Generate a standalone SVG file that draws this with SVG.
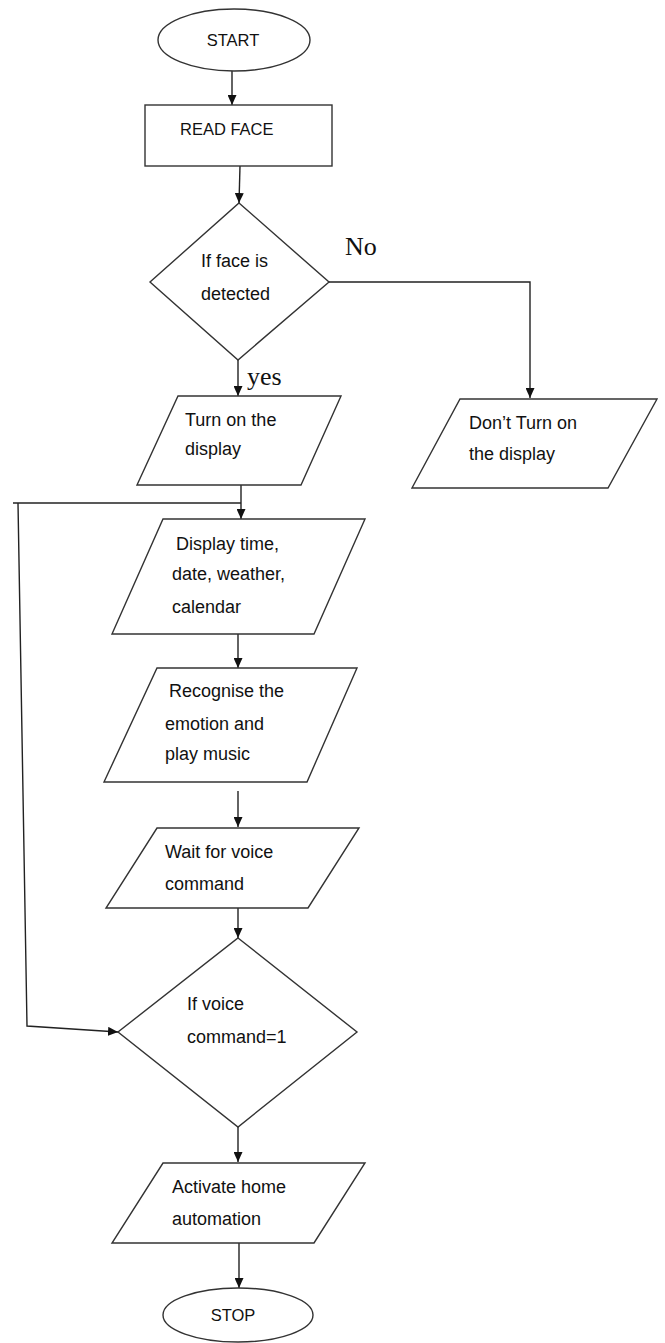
<svg xmlns="http://www.w3.org/2000/svg" width="665" height="1343" viewBox="0 0 665 1343">
<style>
.s{fill:#fff;stroke:#333;stroke-width:1.4}
.c{fill:none;stroke:#222;stroke-width:1.4}
.t{font-family:"Liberation Sans",Arial,sans-serif;font-size:18px;fill:#111}
.tc{font-family:"Liberation Sans",Arial,sans-serif;font-size:16.5px;fill:#111}
.tt{font-family:"Liberation Serif","Times New Roman",serif;font-size:26px;fill:#111}
</style>
<defs>
<marker id="ah" viewBox="0 0 10 10" refX="10" refY="5" markerWidth="10" markerHeight="9" markerUnits="userSpaceOnUse" orient="auto" preserveAspectRatio="none">
<path d="M0,0 L10,5 L0,10 Z" fill="#111"/>
</marker>
</defs>
<rect width="665" height="1343" fill="#fff"/>
<g id="connectors">
<line class="c" x1="232" y1="71" x2="232" y2="105" marker-end="url(#ah)"/>
<line class="c" x1="240" y1="166" x2="239" y2="203" marker-end="url(#ah)"/>
<line class="c" x1="238" y1="360" x2="238" y2="396" marker-end="url(#ah)"/>
<polyline class="c" points="329,282 530,282 530,398" marker-end="url(#ah)"/>
<line class="c" x1="241" y1="485" x2="241" y2="519" marker-end="url(#ah)"/>
<line class="c" x1="241" y1="503" x2="13" y2="503"/>
<polyline class="c" points="18,503 27,1026 118,1032" marker-end="url(#ah)"/>
<line class="c" x1="238" y1="634" x2="238" y2="668" marker-end="url(#ah)"/>
<line class="c" x1="238" y1="791" x2="238" y2="827" marker-end="url(#ah)"/>
<line class="c" x1="238" y1="908" x2="238" y2="938" marker-end="url(#ah)"/>
<line class="c" x1="238" y1="1127" x2="238" y2="1162" marker-end="url(#ah)"/>
<line class="c" x1="239" y1="1243" x2="239" y2="1288" marker-end="url(#ah)"/>
<text class="tt" x="345" y="255">No</text>
<text class="tt" x="247" y="385">yes</text>
</g>
<g id="start">
<ellipse class="s" cx="234" cy="40" rx="76" ry="31"/>
<text class="tc" x="233" y="46" text-anchor="middle">START</text>
</g>
<g id="read-face">
<rect class="s" x="145" y="105" width="187" height="61"/>
<text class="tc" x="180" y="135">READ FACE</text>
</g>
<g id="face-detected">
<polygon class="s" points="239,203 329,282 238,360 150,282"/>
<text class="t" x="201" y="267">If face is</text>
<text class="t" x="201" y="300">detected</text>
</g>
<g id="turn-on">
<polygon class="s" points="178,396 341,396 301,485 137,485"/>
<text class="t" x="185" y="426">Turn on the</text>
<text class="t" x="185" y="455">display</text>
</g>
<g id="dont-turn-on">
<polygon class="s" points="460,399 657,399 608,488 412,488"/>
<text class="t" x="469" y="429">Don’t Turn on</text>
<text class="t" x="469" y="460">the display</text>
</g>
<g id="display-info">
<polygon class="s" points="163,519 365,519 314,634 112,634"/>
<text class="t" x="176" y="550">Display time,</text>
<text class="t" x="172" y="580">date, weather,</text>
<text class="t" x="172" y="613">calendar</text>
</g>
<g id="recognise">
<polygon class="s" points="157,668 357,668 307,782 104,782"/>
<text class="t" x="169" y="697">Recognise the</text>
<text class="t" x="165" y="730">emotion and</text>
<text class="t" x="165" y="760">play music</text>
</g>
<g id="wait-voice">
<polygon class="s" points="157,828 359,828 308,908 106,908"/>
<text class="t" x="165" y="858">Wait for voice</text>
<text class="t" x="165" y="890">command</text>
</g>
<g id="voice-command">
<polygon class="s" points="238,938 357,1032 238,1127 118,1032"/>
<text class="t" x="187" y="1010">If voice</text>
<text class="t" x="187" y="1043">command=1</text>
</g>
<g id="activate">
<polygon class="s" points="163,1163 365,1163 314,1243 112,1243"/>
<text class="t" x="172" y="1193">Activate home</text>
<text class="t" x="172" y="1225">automation</text>
</g>
<g id="stop">
<ellipse class="s" cx="238" cy="1315" rx="75" ry="27"/>
<text class="tc" x="233" y="1321" text-anchor="middle">STOP</text>
</g>
</svg>
